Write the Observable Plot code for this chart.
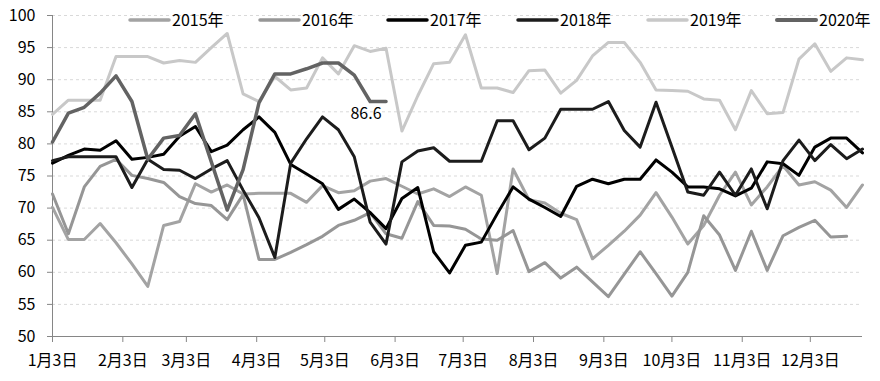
<!DOCTYPE html>
<html>
<head>
<meta charset="utf-8">
<script src="https://cdn.jsdelivr.net/npm/d3@7"></script>
<script src="https://cdn.jsdelivr.net/npm/@observablehq/plot@0.6"></script>
<style>
  html, body { margin: 0; padding: 0; background: #fff; }
  #chart svg { display: block; }
</style>
</head>
<body>
<div id="chart"></div>
<script>
// ---- data ----
const years = ["2015年", "2016年", "2017年", "2018年", "2019年", "2020年"];
const firstWeek = "2019-01-03"; // weekly observations, labelled by day of year
const monthTickLabels = ["1月3日","2月3日","3月3日","4月3日","5月3日","6月3日","7月3日","8月3日","9月3日","10月3日","11月3日","12月3日"];
const yTicks = [50,55,60,65,70,75,80,85,90,95,100];

const s2015 = [70.1,65.1,65.1,67.6,64.6,61.3,57.8,67.3,67.9,73.8,72.5,73.6,72.2,72.3,72.3,72.3,70.9,73.5,72.4,72.7,74.2,74.6,73.4,72.2,73.0,71.8,73.3,72.0,59.8,76.1,71.3,70.8,69.2,68.2,62.1,64.2,66.4,68.9,72.4,68.6,64.4,67.3,72.0,75.6,70.5,73.3,76.6,73.6,74.1,72.8,70.1,73.6];
const s2016 = [72.2,66.0,73.3,76.5,77.6,75.1,74.6,74.0,71.8,70.7,70.4,68.2,72.1,62.0,62.0,63.1,64.3,65.6,67.3,68.1,69.3,66.0,65.3,71.0,67.3,67.2,66.7,65.2,65.0,66.5,60.1,61.5,59.1,60.8,58.5,56.2,59.7,63.2,59.8,56.3,60.0,68.8,65.8,60.3,66.4,60.3,65.7,67.0,68.1,65.5,65.6];
const s2017 = [77.0,78.2,79.2,79.0,80.5,77.6,77.9,78.4,81.2,82.7,78.8,79.8,82.2,84.2,81.8,76.8,75.3,73.8,69.8,71.4,69.3,66.8,71.5,73.2,63.2,59.9,64.2,64.7,69.1,73.3,71.4,70.1,68.7,73.4,74.5,73.8,74.5,74.5,77.5,75.6,73.3,73.3,73.0,71.9,73.1,77.2,76.9,75.1,79.5,80.9,80.9,78.6];
const s2018 = [77.4,78.0,78.0,78.0,78.0,73.2,77.6,76.0,75.9,74.6,76.1,77.4,72.8,68.5,62.3,77.0,80.8,84.2,82.2,78.0,67.8,64.4,77.2,78.9,79.4,77.3,77.3,77.3,83.6,83.6,79.1,80.9,85.4,85.4,85.4,86.6,82.1,79.5,86.5,79.5,72.5,72.0,75.6,72.0,76.1,69.9,77.4,80.6,77.4,79.9,77.7,79.2];
const s2019 = [84.6,86.8,86.8,86.8,93.6,93.6,93.6,92.6,93.0,92.7,95.0,97.2,87.8,86.6,90.5,88.4,88.7,93.4,90.9,95.3,94.4,94.9,82.0,87.5,92.5,92.7,97.0,88.7,88.7,88.0,91.4,91.5,87.9,89.9,93.7,95.8,95.8,92.7,88.4,88.3,88.2,87.0,86.8,82.2,88.3,84.7,84.9,93.2,95.6,91.3,93.4,93.1];
const s2020 = [80.3,84.8,85.7,87.9,90.6,86.6,77.6,80.9,81.3,84.7,77.2,69.7,76.0,86.4,90.9,90.9,91.7,92.6,92.6,90.7,86.6,86.6];

const seriesValues = [s2015, s2016, s2017, s2018, s2019, s2020];
const seriesColors = ["#a3a3a3", "#969696", "#000000", "#1c1c1c", "#c8c8c8", "#636363"];

// ---- build ----
const start = new Date(firstWeek + "T00:00:00Z");
const weekDates = d3.range(52).map(i => d3.utcDay.offset(start, 7 * i));
const tickDates = monthTickLabels.map((_, i) => new Date(Date.UTC(2019, i, 3)));
const tickLabelByTime = new Map(tickDates.map((d, i) => [+d, monthTickLabels[i]]));

const series = years.map((year, s) => seriesValues[s].map((v, i) => ({year, date: weekDates[i], value: v})));
const last2020 = series[5][series[5].length - 1];

const FONT = '"Noto Sans CJK SC", "Noto Sans", sans-serif';

const chart = Plot.plot({
  width: 880,
  height: 381,
  marginLeft: 52,
  marginRight: 18,
  marginTop: 15,
  marginBottom: 45,
  style: {fontFamily: FONT, fontSize: "16px", color: "#000", background: "#fff"},
  x: {type: "utc", domain: [weekDates[0], weekDates[51]]},
  y: {domain: [50, 100]},
  marks: [
    Plot.ruleY(yTicks.filter(t => t > 50), {stroke: "#d9d9d9", strokeWidth: 1, strokeDasharray: "3,3"}),
    Plot.axisY({ticks: yTicks, tickSize: 5, tickPadding: 12, stroke: "#868686", fontSize: 16, tickFormat: d => String(d), label: null}),
    Plot.axisX({ticks: tickDates, tickSize: 6, tickPadding: 12, stroke: "#868686", fontSize: 16, tickFormat: d => tickLabelByTime.get(+d), label: null}),
    Plot.ruleX([weekDates[0]], {y1: 50, y2: 100, stroke: "#868686", strokeWidth: 1}),
    Plot.ruleY([50], {stroke: "#868686", strokeWidth: 1}),
    ...series.map((data, s) => Plot.lineY(data, {
      x: "date", y: "value",
      stroke: seriesColors[s],
      strokeWidth: s === 5 ? 3.5 : 3,
      strokeLinejoin: "round", strokeLinecap: "round"
    })),
    Plot.text([last2020], {x: "date", y: "value", text: d => d.value.toFixed(1), dx: -20, dy: 12, fontSize: 16, fill: "#000"})
  ]
});

document.getElementById("chart").appendChild(chart);

// legend (inside the top of the plot)
const svg = d3.select(chart);
const legendX = [130, 260, 388, 518, 648, 777];
const lg = svg.append("g").attr("font-family", FONT).attr("font-size", 16).attr("text-anchor", "start");
years.forEach((y, i) => {
  lg.append("line")
    .attr("x1", legendX[i]).attr("x2", legendX[i] + 39)
    .attr("y1", 20).attr("y2", 20)
    .attr("stroke", seriesColors[i]).attr("stroke-width", i === 5 ? 4 : 3.5)
    .attr("stroke-linecap", "round");
  lg.append("text")
    .attr("x", legendX[i] + 42).attr("y", 20)
    .attr("dy", "0.35em")
    .attr("text-anchor", "start")
    .attr("fill", "#000")
    .text(y);
});
</script>
</body>
</html>
